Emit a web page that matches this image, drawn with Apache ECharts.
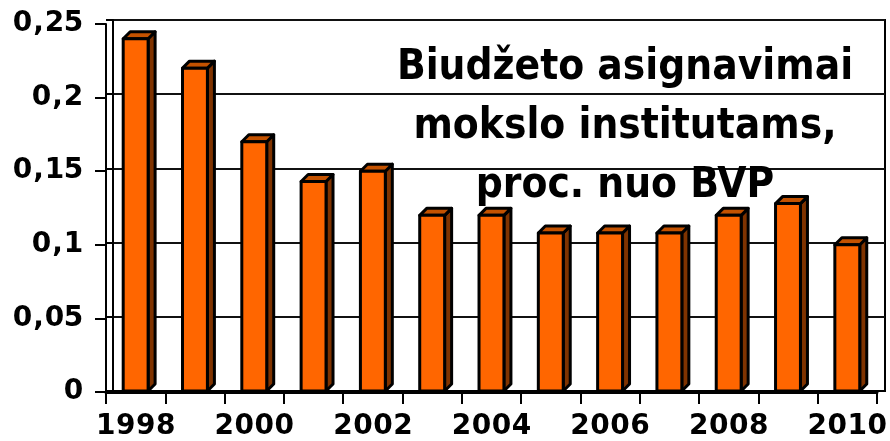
<!DOCTYPE html>
<html>
<head>
<meta charset="utf-8">
<script src="https://cdn.jsdelivr.net/npm/echarts@6/dist/echarts.min.js"></script>
<style>
html,body{margin:0;padding:0;background:#fff;}
#c{width:890px;height:441px;}
</style>
</head>
<body>
<div id="c"></div>
<script>
// ---- data ----
const years = ['1998','1999','2000','2001','2002','2003','2004','2005','2006','2007','2008','2009','2010'];
const values = [0.24, 0.22, 0.17, 0.143, 0.15, 0.12, 0.12, 0.108, 0.108, 0.108, 0.12, 0.128, 0.1];
const yMin = 0, yMax = 0.25, yStep = 0.05;
const titleLines = ['Biudžeto asignavimai', 'mokslo institutams,', 'proc. nuo BVP'];

// ---- styling ----
const FONT = "'DejaVu Sans', Verdana, sans-serif";
const TITLE_FONT = "'DejaVu Sans Condensed', 'Noto Sans', sans-serif";
const LABEL_SIZE = 28;

function spaced(str) {
  return str.split('').map(ch => ch === ',' ? '{c|,}' : '{d|' + ch + '}').join('');
}
const richChars = {
  d: { width: 19, align: 'center', fontSize: LABEL_SIZE, fontWeight: 'bold', fontFamily: FONT, color: '#000' },
  c: { width: 13, align: 'center', fontSize: LABEL_SIZE, fontWeight: 'bold', fontFamily: FONT, color: '#000' }
};
const richX = {
  d: { width: 20, align: 'center', fontSize: LABEL_SIZE, fontWeight: 'bold', fontFamily: FONT, color: '#000' }
};

const chart = echarts.init(document.getElementById('c'), null, { renderer: 'canvas' });

const option = {
  animation: false,
  backgroundColor: '#fff',
  grid: [
    { left: 106, right: 12, top: 24, bottom: 48 },
    { left: 113, right: 5, top: 20, bottom: 50, show: true, borderColor: '#000', borderWidth: 2, backgroundColor: 'transparent' }
  ],
  xAxis: [
    {
      type: 'category', gridIndex: 0, data: years, boundaryGap: true,
      axisLine: { show: true, lineStyle: { color: '#000', width: 3 } },
      axisTick: { show: true, interval: 0, length: 12, lineStyle: { color: '#000', width: 2 } },
      axisLabel: {
        interval: 1, margin: 21,
        fontSize: LABEL_SIZE, fontWeight: 'bold', fontFamily: FONT, color: '#000',
        formatter: v => spaced(v), rich: richX
      },
      splitLine: { show: false }
    },
    {
      type: 'category', gridIndex: 1, data: years, boundaryGap: true,
      axisLine: { show: true, lineStyle: { color: '#000', width: 2 } },
      axisTick: { show: false }, axisLabel: { show: false }, splitLine: { show: false }
    }
  ],
  yAxis: [
    {
      type: 'value', gridIndex: 0, min: yMin, max: yMax, interval: yStep,
      axisLine: { show: true, lineStyle: { color: '#000', width: 2 } },
      axisTick: { show: true, length: 11, lineStyle: { color: '#000', width: 2 } },
      axisLabel: {
        margin: 23,
        fontSize: LABEL_SIZE, fontWeight: 'bold', fontFamily: FONT, color: '#000',
        formatter: v => spaced(String(Math.round(v * 100) / 100).replace('.', ',')),
        rich: richChars
      },
      splitLine: { show: false }
    },
    {
      type: 'value', gridIndex: 1, min: yMin, max: yMax, interval: yStep,
      axisLine: { show: true, lineStyle: { color: '#000', width: 2 } },
      axisTick: { show: true, length: 7, lineStyle: { color: '#000', width: 2 } },
      axisLabel: { show: false },
      splitLine: { show: true, lineStyle: { color: '#111', width: 2 } }
    }
  ],
  graphic: [
    {
      type: 'text', z: 100,
      style: {
        text: titleLines.join('\n'),
        x: 625, y: 39, align: 'center', verticalAlign: 'top',
        fontSize: 42, fontWeight: 'bold', fontFamily: TITLE_FONT,
        lineHeight: 59, fill: '#000'
      }
    }
  ],
  series: [
    {
      type: 'custom', xAxisIndex: 0, yAxisIndex: 0, z: 10,
      data: values.map((v, i) => [i, v]),
      renderItem: function (params, api) {
        const cat = api.value(0), v = api.value(1);
        const base = api.coord([cat, 0]);
        const top = api.coord([cat, v]);
        const bw = api.size([1, 0])[0] * 0.42;
        const d = 7;
        const xl = top[0] - bw / 2, xr = top[0] + bw / 2;
        const yt = top[1], yb = base[1] - 1;
        const stroke = { stroke: '#000', lineWidth: 3, lineJoin: 'round' };
        return {
          type: 'group',
          children: [
            { type: 'polygon', shape: { points: [[xr, yt], [xr + d, yt - d], [xr + d, yb - d], [xr, yb]] },
              style: Object.assign({ fill: '#7f3300' }, stroke) },
            { type: 'polygon', shape: { points: [[xl, yt], [xl + d, yt - d], [xr + d, yt - d], [xr, yt]] },
              style: Object.assign({ fill: '#c45200' }, stroke) },
            { type: 'rect', shape: { x: xl, y: yt, width: bw, height: yb - yt },
              style: Object.assign({ fill: '#ff6600' }, stroke) }
          ]
        };
      }
    }
  ]
};
chart.setOption(option);
</script>
</body>
</html>
